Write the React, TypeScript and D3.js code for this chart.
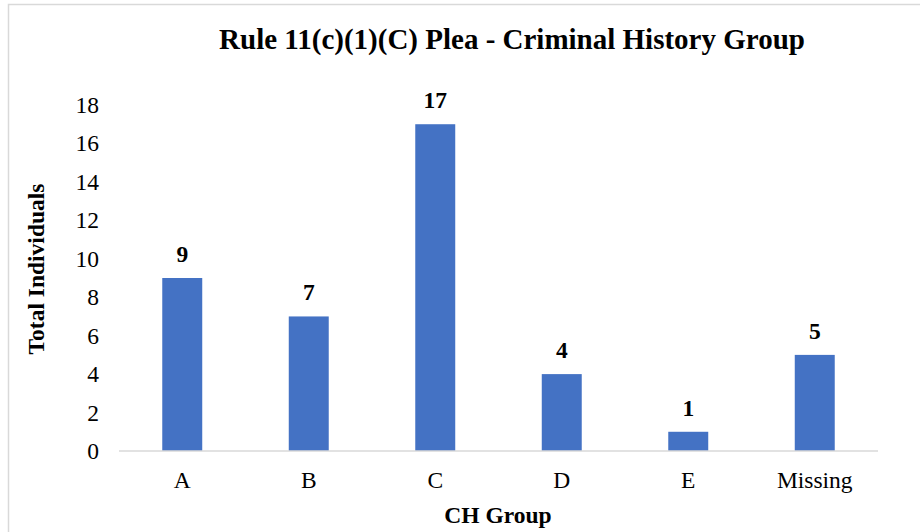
import { useMemo } from "react";
import * as d3 from "d3";

const categories = ["A", "B", "C", "D", "E", "Missing"];
const totals = [9, 7, 17, 4, 1, 5];
const yTicks = [0, 2, 4, 6, 8, 10, 12, 14, 16, 18];

const W = 920;
const H = 532;
const font = "'Liberation Serif', 'Times New Roman', serif";

const App = () => {
  const x = useMemo(
    () =>
      d3
        .scaleBand<string>()
        .domain(categories)
        .range([119, 878])
        .paddingInner(0.684)
        .paddingOuter(0.342),
    []
  );
  const y = useMemo(() => d3.scaleLinear().domain([0, 18]).range([451, 105]), []);

  return (
    <svg
      width={W}
      height={H}
      style={{ position: "absolute", left: 0, top: 0, background: "#fff" }}
      fontFamily={font}
    >
      {/* chart border */}
      <rect x={8.5} y={4.5} width={W + 10} height={H + 10} fill="#fff" stroke="#d9d9d9" strokeWidth={1.5} />

      <text x={512} y={49} textAnchor="middle" fontSize={29} fontWeight="bold">
        Rule 11(c)(1)(C) Plea - Criminal History Group
      </text>

      {yTicks.map((t) => (
        <text key={t} x={99} y={y(t) + 8} textAnchor="end" fontSize={23.5}>
          {t}
        </text>
      ))}

      {categories.map((c, i) => {
        const v = totals[i];
        const bx = x(c) ?? 0;
        return (
          <g key={c}>
            <rect x={bx} y={y(v)} width={x.bandwidth()} height={y(0) - y(v)} fill="#4472c4" />
            <text
              x={bx + x.bandwidth() / 2}
              y={y(v) - 16}
              textAnchor="middle"
              fontSize={23.5}
              fontWeight="bold"
            >
              {v}
            </text>
            <text x={bx + x.bandwidth() / 2} y={488} textAnchor="middle" fontSize={23.5}>
              {c}
            </text>
          </g>
        );
      })}

      <line x1={119} x2={878} y1={y(0)} y2={y(0)} stroke="#d9d9d9" strokeWidth={1.5} />

      <text x={498} y={523} textAnchor="middle" fontSize={23.5} fontWeight="bold">
        CH Group
      </text>
      <text
        transform={`translate(44, 269) rotate(-90)`}
        textAnchor="middle"
        fontSize={23.5}
        fontWeight="bold"
      >
        Total Individuals
      </text>
    </svg>
  );
};

export default App;
